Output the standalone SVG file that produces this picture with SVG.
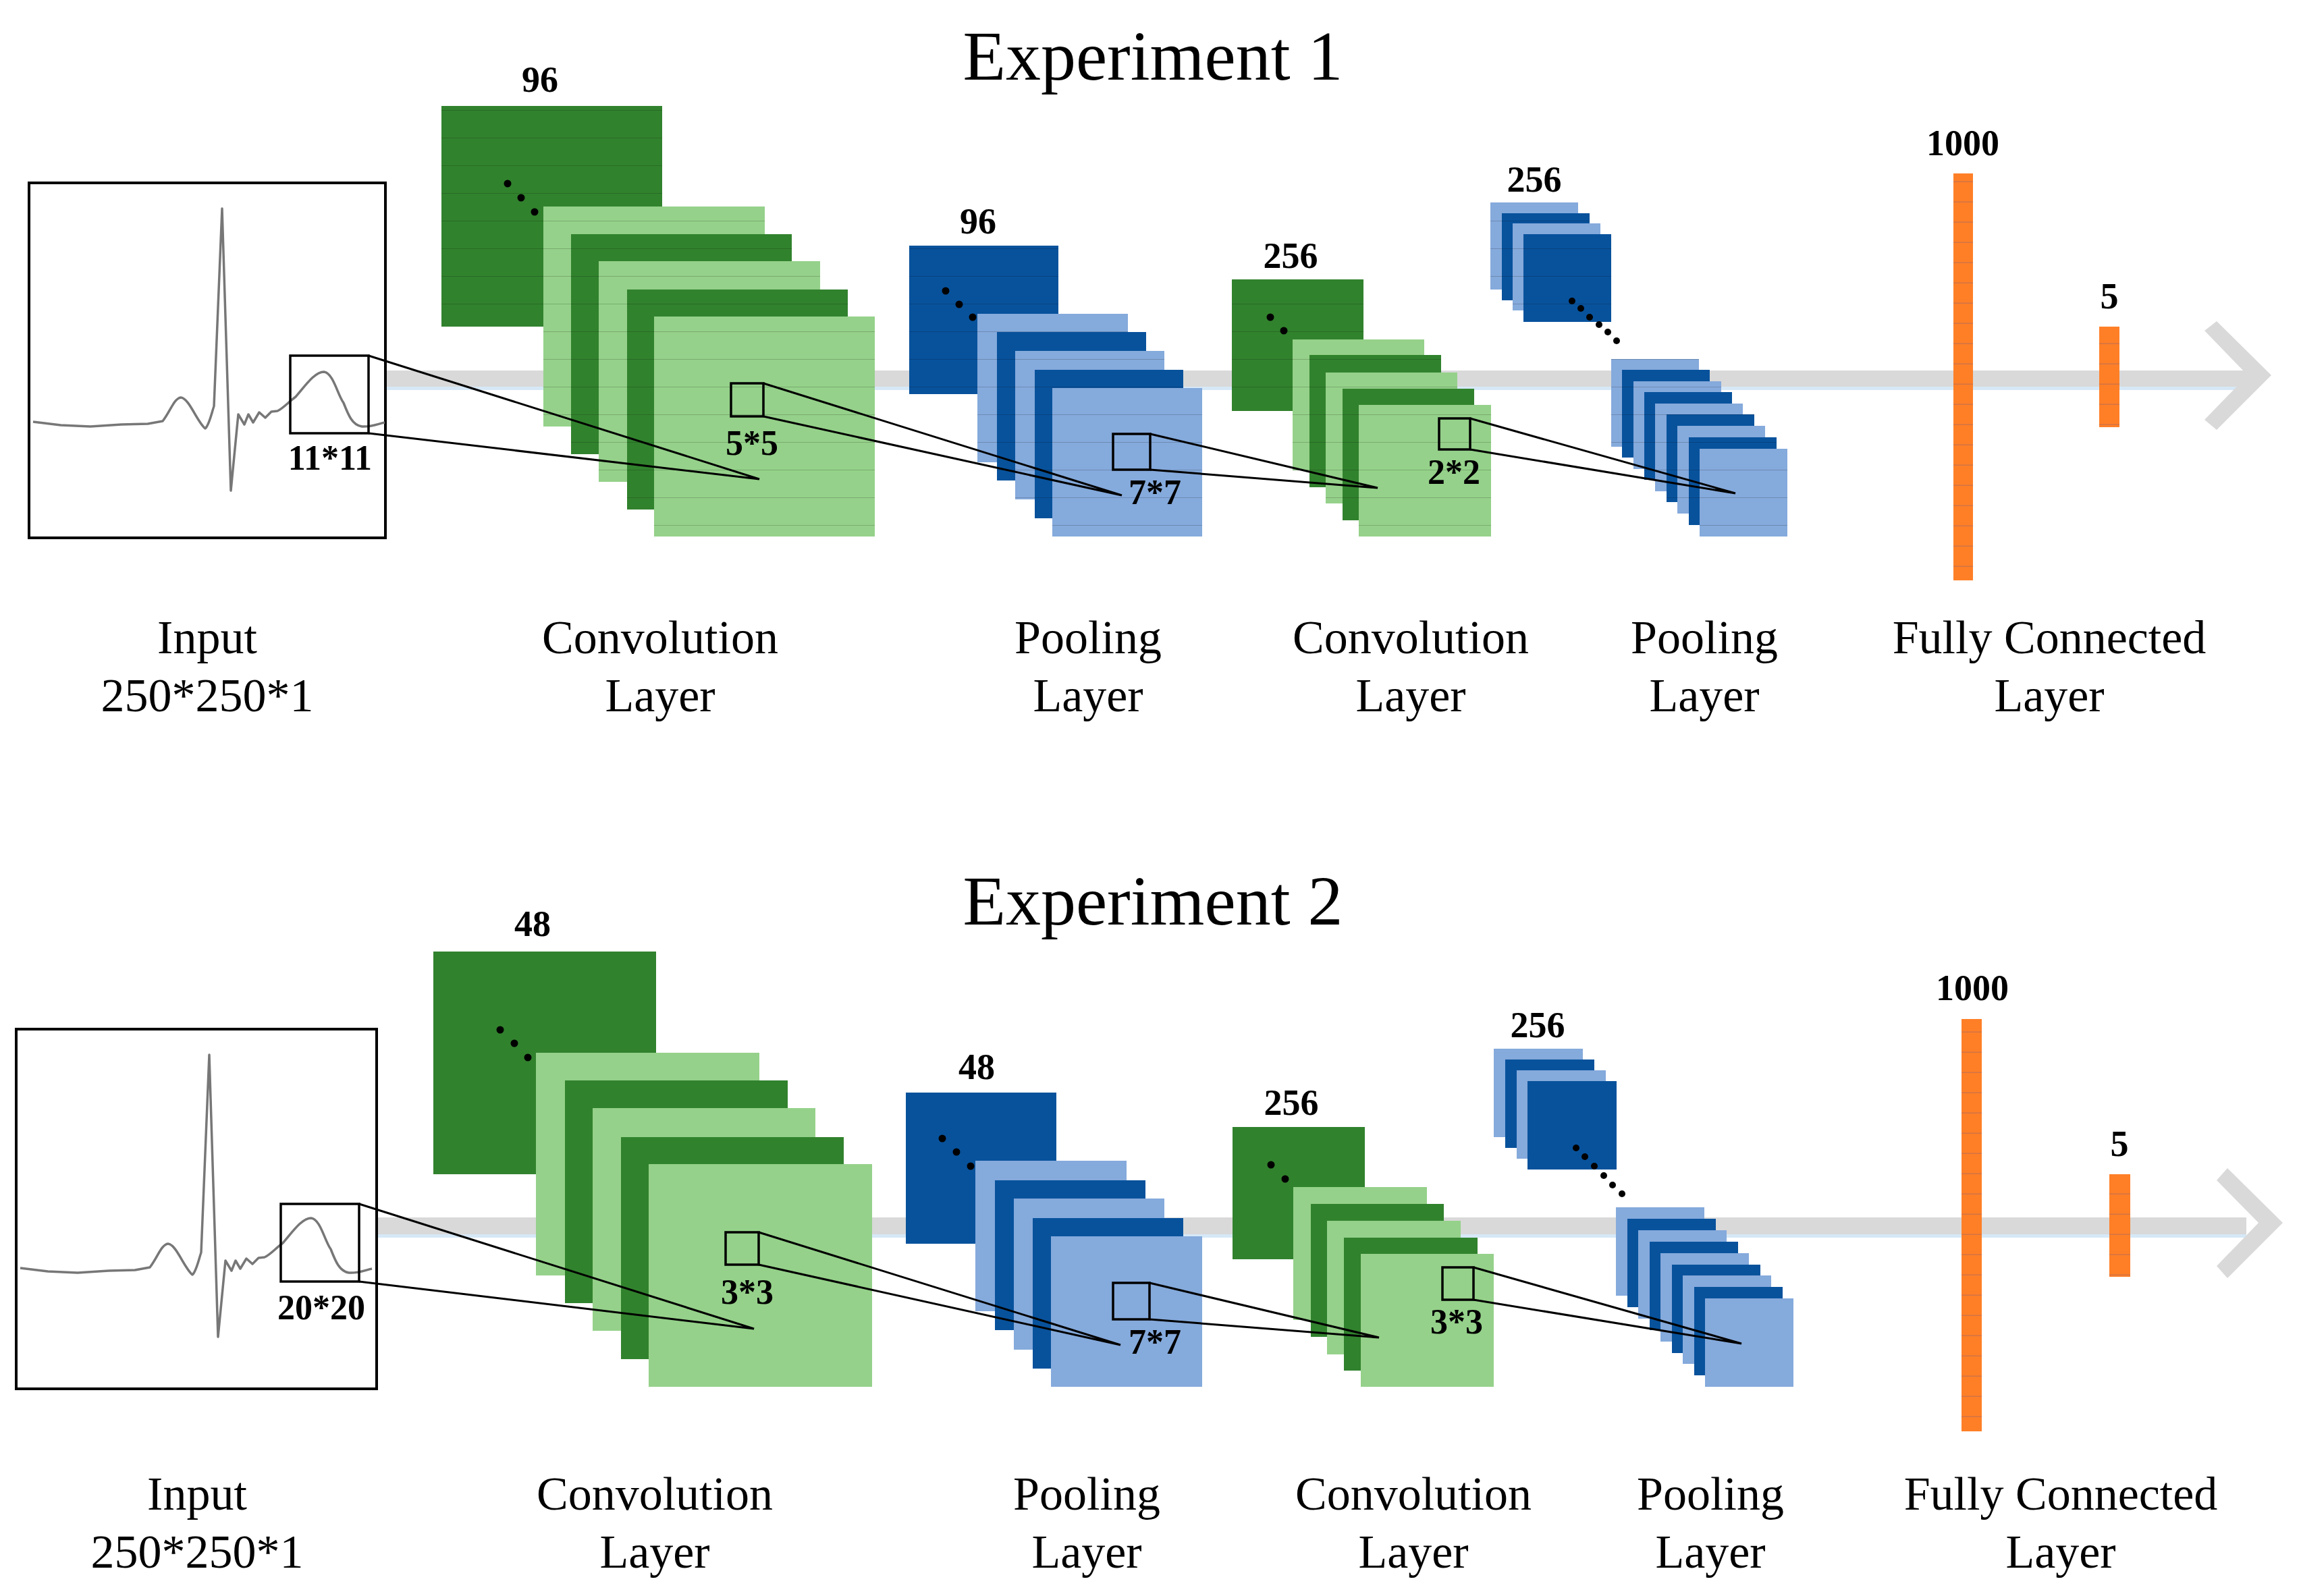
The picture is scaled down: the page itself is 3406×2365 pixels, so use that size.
<svg xmlns="http://www.w3.org/2000/svg" width="3406" height="2365" viewBox="0 0 3406 2365">
<style>
.dg{fill:#31822d}.lg{fill:#95d18a}.db{fill:#08529c}.lb{fill:#85aadc}.or{fill:#ff7f27}
.st{fill:url(#stripe)}.sto{fill:url(#stripeO)}
.band{fill:#d9d9d9}.shadow{fill:#d6e8f7}
.box{fill:none;stroke:#000;stroke-width:4}
.sbox{fill:none;stroke:#000;stroke-width:3.5}
.ln{stroke:#000;stroke-width:3;fill:none}
.ecg{fill:none;stroke:#777;stroke-width:3.5;stroke-linejoin:round}
.num{font-family:"Liberation Serif",serif;font-weight:bold;font-size:54px;text-anchor:middle}
.ks{font-family:"Liberation Serif",serif;font-weight:bold;font-size:52px;text-anchor:middle}
.lab{font-family:"Liberation Serif",serif;font-size:70px;text-anchor:middle}
.title{font-family:"Liberation Serif",serif;font-size:104px;text-anchor:middle}
</style>
<defs>
<pattern id="stripe" patternUnits="userSpaceOnUse" width="40" height="41"><rect x="0" y="40" width="40" height="1.2" fill="#000" fill-opacity="0.18"/></pattern>
<pattern id="stripeO" patternUnits="userSpaceOnUse" width="40" height="30"><rect x="0" y="28.5" width="40" height="2" fill="#c07050" fill-opacity="0.7"/></pattern>
<path id="ecgp" d="M49,625 L90,630 L134,632 L180,629 L219,628 L241,624 C252,610 258,590 268,589 C280,590 292,625 304,635 C310,630 314,610 317,602 L329,309 L342,727 L353,614 L362,629 L368,614 L375,626 L384,611 L393,619 L402,610 L411,609 C420,605 428,595 438,588 C452,572 466,551 480,551 C494,553 500,585 509,597 C516,615 522,630 536,632 C550,633 560,628 570,626"/>
</defs>
<rect width="3406" height="2365" fill="#fff"/>

<g id="titles">
<text class="title" x="1708" y="118">Experiment 1</text>
<text class="title" x="1708" y="1370">Experiment 2</text>
</g>

<g id="band1">
<rect class="shadow" x="571" y="573" width="2760" height="5"/>
<rect class="band" x="571" y="549" width="2760" height="24"/>
<polygon class="band" points="3284,476 3365,556 3284,637 3266,622 3330,556 3266,490"/>
</g>

<g id="e1-input">
<rect x="43" y="271" width="528" height="526" fill="#fff" class="box"/>
<use href="#ecgp" class="ecg"/>
<rect class="sbox" x="430" y="527" width="116" height="115"/>
<text class="ks" x="489" y="696">11*11</text>
</g>

<g id="e1-conv1">
<text class="num" x="800" y="136">96</text>
<rect class="dg" x="654" y="157" width="327" height="327"/><rect class="st" x="654" y="157" width="327" height="327"/>
<circle cx="752" cy="272" r="5.5"/><circle cx="772" cy="293" r="5.5"/><circle cx="792" cy="314" r="5.5"/>
<rect class="lg" x="805" y="306" width="328" height="326"/><rect class="st" x="805" y="306" width="328" height="326"/>
<rect class="dg" x="846" y="347" width="327" height="326"/><rect class="st" x="846" y="347" width="327" height="326"/>
<rect class="lg" x="887" y="387" width="328" height="327"/><rect class="st" x="887" y="387" width="328" height="327"/>
<rect class="dg" x="929" y="429" width="327" height="326"/><rect class="st" x="929" y="429" width="327" height="326"/>
<rect class="lg" x="969" y="469" width="327" height="326"/><rect class="st" x="969" y="469" width="327" height="326"/>
<rect class="sbox" x="1083" y="568" width="48" height="49"/>
<text class="ks" x="1114" y="674">5*5</text>
</g>

<g id="e1-pool1">
<text class="num" x="1449" y="346">96</text>
<rect class="db" x="1347" y="364" width="221" height="220"/><rect class="st" x="1347" y="364" width="221" height="220"/>
<circle cx="1401" cy="431" r="5.5"/><circle cx="1421" cy="451" r="5.5"/><circle cx="1441" cy="470" r="5.5"/>
<rect class="lb" x="1448" y="465" width="223" height="220"/><rect class="st" x="1448" y="465" width="223" height="220"/>
<rect class="db" x="1477" y="492" width="221" height="220"/><rect class="st" x="1477" y="492" width="221" height="220"/>
<rect class="lb" x="1504" y="520" width="221" height="220"/><rect class="st" x="1504" y="520" width="221" height="220"/>
<rect class="db" x="1533" y="548" width="220" height="220"/><rect class="st" x="1533" y="548" width="220" height="220"/>
<rect class="lb" x="1559" y="575" width="222" height="220"/><rect class="st" x="1559" y="575" width="222" height="220"/>
<rect class="sbox" x="1649" y="643" width="55" height="53"/>
<text class="ks" x="1711" y="747">7*7</text>
</g>

<g id="e1-conv2">
<text class="num" x="1912" y="397">256</text>
<rect class="dg" x="1825" y="414" width="195" height="195"/><rect class="st" x="1825" y="414" width="195" height="195"/>
<circle cx="1882" cy="470" r="5.5"/><circle cx="1902" cy="490" r="5.5"/>
<rect class="lg" x="1915" y="503" width="195" height="194"/><rect class="st" x="1915" y="503" width="195" height="194"/>
<rect class="dg" x="1940" y="526" width="195" height="196"/><rect class="st" x="1940" y="526" width="195" height="196"/>
<rect class="lg" x="1964" y="552" width="195" height="194"/><rect class="st" x="1964" y="552" width="195" height="194"/>
<rect class="dg" x="1989" y="576" width="195" height="195"/><rect class="st" x="1989" y="576" width="195" height="195"/>
<rect class="lg" x="2013" y="600" width="196" height="195"/><rect class="st" x="2013" y="600" width="196" height="195"/>
<rect class="sbox" x="2132" y="620" width="46" height="46"/>
<text class="ks" x="2154" y="717">2*2</text>
</g>

<g id="e1-pool2">
<text class="num" x="2273" y="284">256</text>
<rect class="lb" x="2208" y="300" width="130" height="129"/><rect class="st" x="2208" y="300" width="130" height="129"/>
<rect class="db" x="2225" y="316" width="130" height="129"/><rect class="st" x="2225" y="316" width="130" height="129"/>
<rect class="lb" x="2241" y="331" width="130" height="129"/><rect class="st" x="2241" y="331" width="130" height="129"/>
<rect class="db" x="2257" y="347" width="130" height="130"/><rect class="st" x="2257" y="347" width="130" height="130"/>
<circle cx="2329" cy="446" r="5"/><circle cx="2342" cy="457" r="5"/><circle cx="2355" cy="470" r="5"/><circle cx="2369" cy="481" r="5"/><circle cx="2382" cy="492" r="5"/><circle cx="2395" cy="505" r="5"/>
<rect class="lb" x="2387" y="532" width="130" height="130"/><rect class="st" x="2387" y="532" width="130" height="130"/>
<rect class="db" x="2403" y="548" width="130" height="130"/><rect class="st" x="2403" y="548" width="130" height="130"/>
<rect class="lb" x="2420" y="565" width="130" height="130"/><rect class="st" x="2420" y="565" width="130" height="130"/>
<rect class="db" x="2436" y="581" width="130" height="130"/><rect class="st" x="2436" y="581" width="130" height="130"/>
<rect class="lb" x="2452" y="598" width="130" height="130"/><rect class="st" x="2452" y="598" width="130" height="130"/>
<rect class="db" x="2469" y="614" width="130" height="130"/><rect class="st" x="2469" y="614" width="130" height="130"/>
<rect class="lb" x="2485" y="631" width="130" height="130"/><rect class="st" x="2485" y="631" width="130" height="130"/>
<rect class="db" x="2502" y="648" width="130" height="130"/><rect class="st" x="2502" y="648" width="130" height="130"/>
<rect class="lb" x="2518" y="665" width="130" height="130"/><rect class="st" x="2518" y="665" width="130" height="130"/>
</g>

<g id="e1-fc">
<text class="num" x="2908" y="230">1000</text>
<rect class="or" x="2894" y="257" width="29" height="603"/><rect class="sto" x="2894" y="257" width="29" height="603"/>
<text class="num" x="3125" y="457">5</text>
<rect class="or" x="3110" y="484" width="30" height="149"/><rect class="sto" x="3110" y="484" width="30" height="149"/>
</g>

<g id="e1-connectors">
<polyline class="ln" points="546,527 1125,710 546,642"/>
<polyline class="ln" points="1131,568 1662,734 1131,617"/>
<polyline class="ln" points="1704,643 2041,723 1704,696"/>
<polyline class="ln" points="2178,620 2571,731 2178,666"/>
</g>

<g id="e1-labels">
<text class="lab" x="307" y="968">Input</text><text class="lab" x="307" y="1054">250*250*1</text>
<text class="lab" x="978" y="968">Convolution</text><text class="lab" x="978" y="1054">Layer</text>
<text class="lab" x="1612" y="968">Pooling</text><text class="lab" x="1612" y="1054">Layer</text>
<text class="lab" x="2090" y="968">Convolution</text><text class="lab" x="2090" y="1054">Layer</text>
<text class="lab" x="2525" y="968">Pooling</text><text class="lab" x="2525" y="1054">Layer</text>
<text class="lab" x="3036" y="968">Fully Connected</text><text class="lab" x="3036" y="1054">Layer</text>
</g>

<g id="band2">
<rect class="shadow" x="558" y="1829" width="2770" height="5"/>
<rect class="band" x="558" y="1804" width="2770" height="25"/>
<polygon class="band" points="3300,1731 3382,1812 3300,1894 3284,1876 3346,1812 3284,1749"/>
</g>

<g id="e2-input">
<rect x="24" y="1525" width="534" height="533" fill="#fff" class="box"/>
<use href="#ecgp" class="ecg" transform="translate(-19,1254)"/>
<rect class="sbox" x="416" y="1784" width="116" height="115"/>
<text class="ks" x="476" y="1955">20*20</text>
</g>

<g id="e2-conv1">
<text class="num" x="789" y="1387">48</text>
<rect class="dg" x="642" y="1410" width="330" height="330"/>
<circle cx="741" cy="1526" r="5.5"/><circle cx="762" cy="1546" r="5.5"/><circle cx="782" cy="1567" r="5.5"/>
<rect class="lg" x="794" y="1560" width="331" height="330"/>
<rect class="dg" x="837" y="1601" width="330" height="330"/>
<rect class="lg" x="878" y="1642" width="330" height="330"/>
<rect class="dg" x="920" y="1685" width="330" height="329"/>
<rect class="lg" x="961" y="1725" width="331" height="330"/>
<rect class="sbox" x="1075" y="1826" width="49" height="48"/>
<text class="ks" x="1107" y="1932">3*3</text>
</g>

<g id="e2-pool1">
<text class="num" x="1447" y="1599">48</text>
<rect class="db" x="1342" y="1619" width="223" height="224"/>
<circle cx="1396" cy="1687" r="5.5"/><circle cx="1417" cy="1707" r="5.5"/><circle cx="1438" cy="1728" r="5.5"/>
<rect class="lb" x="1445" y="1720" width="224" height="223"/>
<rect class="db" x="1474" y="1749" width="223" height="222"/>
<rect class="lb" x="1502" y="1776" width="223" height="224"/>
<rect class="db" x="1530" y="1805" width="223" height="223"/>
<rect class="lb" x="1557" y="1832" width="224" height="223"/>
<rect class="sbox" x="1649" y="1901" width="54" height="54"/>
<text class="ks" x="1711" y="2006">7*7</text>
</g>

<g id="e2-conv2">
<text class="num" x="1913" y="1652">256</text>
<rect class="dg" x="1826" y="1670" width="196" height="196"/>
<circle cx="1883" cy="1726" r="5.5"/><circle cx="1904" cy="1747" r="5.5"/>
<rect class="lg" x="1916" y="1759" width="198" height="197"/>
<rect class="dg" x="1942" y="1784" width="197" height="197"/>
<rect class="lg" x="1966" y="1809" width="198" height="198"/>
<rect class="dg" x="1991" y="1834" width="198" height="197"/>
<rect class="lg" x="2016" y="1858" width="197" height="197"/>
<rect class="sbox" x="2137" y="1878" width="46" height="48"/>
<text class="ks" x="2158" y="1976">3*3</text>
</g>

<g id="e2-pool2">
<text class="num" x="2278" y="1537">256</text>
<rect class="lb" x="2213" y="1554" width="132" height="131"/>
<rect class="db" x="2230" y="1570" width="132" height="131"/>
<rect class="lb" x="2247" y="1586" width="132" height="131"/>
<rect class="db" x="2263" y="1602" width="132" height="131"/>
<circle cx="2335" cy="1701" r="5"/><circle cx="2348" cy="1714" r="5"/><circle cx="2362" cy="1728" r="5"/><circle cx="2376" cy="1742" r="5"/><circle cx="2389" cy="1756" r="5"/><circle cx="2403" cy="1769" r="5"/>
<rect class="lb" x="2394" y="1789" width="131" height="131"/>
<rect class="db" x="2411" y="1806" width="131" height="131"/>
<rect class="lb" x="2427" y="1823" width="131" height="131"/>
<rect class="db" x="2444" y="1840" width="131" height="131"/>
<rect class="lb" x="2460" y="1857" width="131" height="131"/>
<rect class="db" x="2477" y="1874" width="131" height="131"/>
<rect class="lb" x="2493" y="1890" width="131" height="131"/>
<rect class="db" x="2510" y="1907" width="131" height="131"/>
<rect class="lb" x="2526" y="1924" width="131" height="131"/>
</g>

<g id="e2-fc">
<text class="num" x="2922" y="1482">1000</text>
<rect class="or" x="2906" y="1510" width="30" height="611"/><rect class="sto" x="2906" y="1510" width="30" height="611"/>
<text class="num" x="3140" y="1713">5</text>
<rect class="or" x="3125" y="1740" width="31" height="152"/><rect class="sto" x="3125" y="1740" width="31" height="152"/>
</g>

<g id="e2-connectors">
<polyline class="ln" points="532,1784 1117,1969 532,1899"/>
<polyline class="ln" points="1124,1826 1660,1993 1124,1874"/>
<polyline class="ln" points="1703,1901 2043,1982 1703,1955"/>
<polyline class="ln" points="2183,1878 2580,1991 2183,1926"/>
</g>

<g id="e2-labels">
<text class="lab" x="292" y="2237">Input</text><text class="lab" x="292" y="2323">250*250*1</text>
<text class="lab" x="970" y="2237">Convolution</text><text class="lab" x="970" y="2323">Layer</text>
<text class="lab" x="1610" y="2237">Pooling</text><text class="lab" x="1610" y="2323">Layer</text>
<text class="lab" x="2094" y="2237">Convolution</text><text class="lab" x="2094" y="2323">Layer</text>
<text class="lab" x="2534" y="2237">Pooling</text><text class="lab" x="2534" y="2323">Layer</text>
<text class="lab" x="3053" y="2237">Fully Connected</text><text class="lab" x="3053" y="2323">Layer</text>
</g>
</svg>
